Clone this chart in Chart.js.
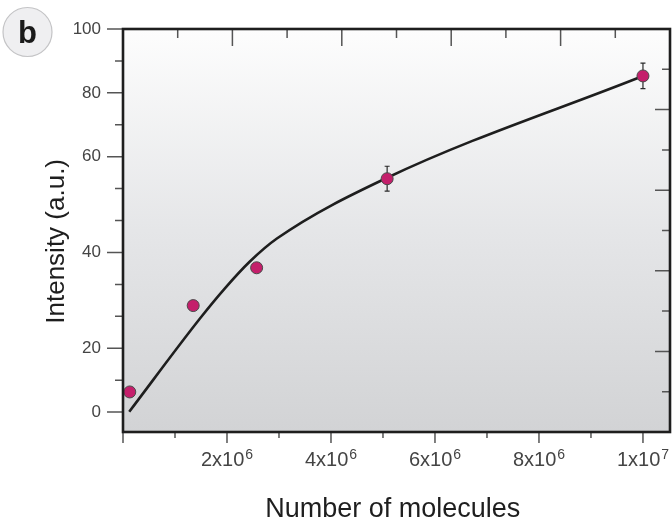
<!DOCTYPE html>
<html>
<head>
<meta charset="utf-8">
<script src="https://cdn.jsdelivr.net/npm/chart.js@4/dist/chart.umd.min.js"></script>
<style>
  html, body { margin: 0; padding: 0; background: #ffffff; }
  #wrap { width: 672px; height: 523px; }
</style>
</head>
<body>
<div id="wrap"><canvas id="c" width="672" height="523"></canvas></div>
<script>
// ---- data ----
const moleculeCounts = [0.13e6, 1.35e6, 2.57e6, 5.08e6, 1.0e7];
const intensities    = [6.3, 28.9, 36.8, 55.4, 85.3];
const intensityErrors = [0, 0, 0, 2.6, 4.0];

const fitCounts      = [0.12e6, 1.48e6, 1.96e6, 2.44e6, 2.96e6, 5.08e6, 1.0e7];
const fitIntensities = [0.1, 26.2, 32.5, 38.1, 42.9, 55.6, 85.3];

const yTickValues  = [0, 20, 40, 60, 80, 100];
const yMinorValues = [10, 26.67, 33.33, 46.67, 53.33, 70, 90];
const xTickValues    = [2e6, 4e6, 6e6, 8e6, 1e7];
const xTickMantissas = ['2', '4', '6', '8', '1'];
const xTickExponents = ['6', '6', '6', '6', '7'];
const xMinorValues   = [0, 1e6, 3e6, 5e6, 7e6, 9e6];

const xTitle = 'Number of molecules';
const yTitle = 'Intensity (a.u.)';
const panelLabel = 'b';

// ---- the printed y axis has uneven spacing between its labels ----
const axisBreakValues = [0, 20, 40, 60, 80, 100];
const axisBreakUnits  = [0, 2, 5, 8, 10, 12];
function toUnit(v) {
  const b = axisBreakValues, u = axisBreakUnits;
  let i = 0;
  if (v <= b[0]) i = 0;
  else if (v >= b[b.length - 1]) i = b.length - 2;
  else { while (v > b[i + 1]) i++; }
  return u[i] + (v - b[i]) * (u[i + 1] - u[i]) / (b[i + 1] - b[i]);
}
function fromUnit(x) {
  const b = axisBreakValues, u = axisBreakUnits;
  let i = 0;
  if (x <= u[0]) i = 0;
  else if (x >= u[u.length - 1]) i = u.length - 2;
  else { while (x > u[i + 1]) i++; }
  return b[i] + (x - u[i]) * (b[i + 1] - b[i]) / (u[i + 1] - u[i]);
}

class PiecewiseScale extends Chart.LinearScale {
  buildTicks() {
    const all = yTickValues.concat(yMinorValues).sort((a, b) => a - b);
    return all.map(v => ({ value: v }));
  }
  getPixelForValue(value) {
    if (value === null || value === undefined || isNaN(value)) return NaN;
    const u0 = toUnit(this.min), u1 = toUnit(this.max);
    return this.getPixelForDecimal((toUnit(value) - u0) / (u1 - u0));
  }
  getValueForPixel(pixel) {
    const u0 = toUnit(this.min), u1 = toUnit(this.max);
    return fromUnit(u0 + this.getDecimalForPixel(pixel) * (u1 - u0));
  }
}
PiecewiseScale.id = 'piecewise';
PiecewiseScale.defaults = Chart.LinearScale.defaults;
Chart.register(PiecewiseScale);

const FONT = "'Liberation Sans', Arial, Helvetica, sans-serif";
const FRAME_DIVISIONS = 10;

const framePlugin = {
  id: 'frame',
  beforeDraw(chart) {
    const { ctx, chartArea: a } = chart;
    const g = ctx.createLinearGradient(0, a.top, 0, a.bottom);
    g.addColorStop(0, '#fdfdfd');
    g.addColorStop(0.5, '#e5e6e8');
    g.addColorStop(1, '#d2d3d5');
    ctx.save();
    ctx.fillStyle = g;
    ctx.fillRect(a.left, a.top, a.right - a.left, a.bottom - a.top);
    ctx.restore();
  },
  beforeDatasetsDraw(chart) {
    const { ctx } = chart;
    const xs = chart.scales.x, ys = chart.scales.y;
    ctx.save();
    ctx.strokeStyle = '#2a2a2a';
    ctx.lineWidth = 1.2;
    moleculeCounts.forEach((xv, i) => {
      const e = intensityErrors[i];
      if (!e) return;
      const px = xs.getPixelForValue(xv);
      const y1 = ys.getPixelForValue(intensities[i] - e);
      const y2 = ys.getPixelForValue(intensities[i] + e);
      ctx.beginPath();
      ctx.moveTo(px, y1); ctx.lineTo(px, y2);
      ctx.moveTo(px - 2.5, y1); ctx.lineTo(px + 2.5, y1);
      ctx.moveTo(px - 2.5, y2); ctx.lineTo(px + 2.5, y2);
      ctx.stroke();
    });
    ctx.restore();
  },
  afterDraw(chart) {
    const { ctx, chartArea: a } = chart;
    const xs = chart.scales.x, ys = chart.scales.y;
    ctx.save();
    ctx.strokeStyle = '#555';
    ctx.lineWidth = 1.5;
    ctx.beginPath();
    // left ticks
    yTickValues.forEach(v => { const p = ys.getPixelForValue(v); ctx.moveTo(a.left - 16, p); ctx.lineTo(a.left, p); });
    yMinorValues.forEach(v => { const p = ys.getPixelForValue(v); ctx.moveTo(a.left - 8, p); ctx.lineTo(a.left, p); });
    // bottom ticks
    xTickValues.forEach(v => { const p = xs.getPixelForValue(v); ctx.moveTo(p, a.bottom); ctx.lineTo(p, a.bottom + 11); });
    xMinorValues.forEach((v, i) => { const p = xs.getPixelForValue(v); const len = i === 0 ? 11 : 6; ctx.moveTo(p, a.bottom); ctx.lineTo(p, a.bottom + len); });
    // top and right frame ticks (inward, evenly dividing the frame)
    for (let i = 1; i < FRAME_DIVISIONS; i++) {
      const px = a.left + (a.right - a.left) * i / FRAME_DIVISIONS;
      ctx.moveTo(px, a.top); ctx.lineTo(px, a.top + (i % 2 === 0 ? 17 : 9));
      const py = a.bottom - (a.bottom - a.top) * i / FRAME_DIVISIONS;
      ctx.moveTo(a.right, py); ctx.lineTo(a.right - (i % 2 === 0 ? 15 : 8), py);
    }
    ctx.stroke();

    // frame
    ctx.strokeStyle = '#1e1e1e';
    ctx.lineWidth = 2.6;
    ctx.strokeRect(a.left, a.top, a.right - a.left, a.bottom - a.top);

    // x tick labels with exponents
    ctx.fillStyle = '#444';
    ctx.textBaseline = 'alphabetic';
    ctx.textAlign = 'left';
    xTickValues.forEach((v, i) => {
      const p = xs.getPixelForValue(v);
      const mant = xTickMantissas[i] + 'x10';
      ctx.font = '20px ' + FONT;
      const wm = ctx.measureText(mant).width;
      ctx.font = '14px ' + FONT;
      const we = ctx.measureText(xTickExponents[i]).width;
      const start = p - (wm + we + 1) / 2;
      ctx.font = '20px ' + FONT;
      ctx.fillText(mant, start, a.bottom + 34);
      ctx.font = '14px ' + FONT;
      ctx.fillText(xTickExponents[i], start + wm + 1, a.bottom + 27);
    });

    // panel label
    ctx.beginPath();
    ctx.arc(27.5, 32, 24.5, 0, Math.PI * 2);
    ctx.fillStyle = '#efeff1';
    ctx.fill();
    ctx.strokeStyle = '#c4c4c6';
    ctx.lineWidth = 1.2;
    ctx.stroke();
    ctx.fillStyle = '#1a1a1a';
    ctx.font = 'bold 31px ' + FONT;
    ctx.textAlign = 'center';
    ctx.fillText(panelLabel, 27.5, 42.5);
    ctx.restore();
  }
};

new Chart(document.getElementById('c'), {
  type: 'scatter',
  data: {
    datasets: [
      {
        label: 'Measured',
        data: moleculeCounts.map((x, i) => ({ x: x, y: intensities[i] })),
        showLine: false,
        pointRadius: 6,
        pointBackgroundColor: '#c41f6b',
        pointBorderColor: '#4a4a4a',
        pointBorderWidth: 1
      },
      {
        label: 'Fit',
        data: fitCounts.map((x, i) => ({ x: x, y: fitIntensities[i] })),
        showLine: true,
        pointRadius: 0,
        borderColor: '#1e1e1e',
        borderWidth: 2.6,
        cubicInterpolationMode: 'monotone',
        fill: false
      }
    ]
  },
  options: {
    responsive: false,
    animation: false,
    devicePixelRatio: 1,
    layout: { autoPadding: false, padding: { top: 29, right: 2, left: 0, bottom: 0 } },
    plugins: { legend: { display: false }, tooltip: { enabled: false } },
    scales: {
      x: {
        type: 'linear',
        position: 'bottom',
        min: 0,
        max: 10.52e6,
        grid: { display: false, drawTicks: false },
        border: { display: false },
        ticks: { display: false },
        title: {
          display: true,
          text: xTitle + ' ',
          color: '#1e1e1e',
          font: { family: FONT, size: 27, lineHeight: 1 },
          padding: { top: 0, bottom: 0 }
        },
        afterFit(scale) { scale.height = 91; }
      },
      y: {
        type: 'piecewise',
        position: 'left',
        min: -6.25,
        max: 100,
        grid: { display: false, drawTicks: false },
        border: { display: false },
        ticks: {
          autoSkip: false,
          padding: 22,
          color: '#444',
          font: { family: FONT, size: 17 },
          callback: (v) => yTickValues.includes(v) ? String(v) : ''
        },
        title: {
          display: true,
          text: yTitle + '   ',
          color: '#1e1e1e',
          font: { family: FONT, size: 26, lineHeight: 1 },
          padding: { top: 44, bottom: 0 }
        },
        afterFit(scale) {
          scale.width = 123;
          scale.paddingTop = 0;
          scale.paddingBottom = 0;
        }
      }
    }
  },
  plugins: [framePlugin]
});
</script>
</body>
</html>
